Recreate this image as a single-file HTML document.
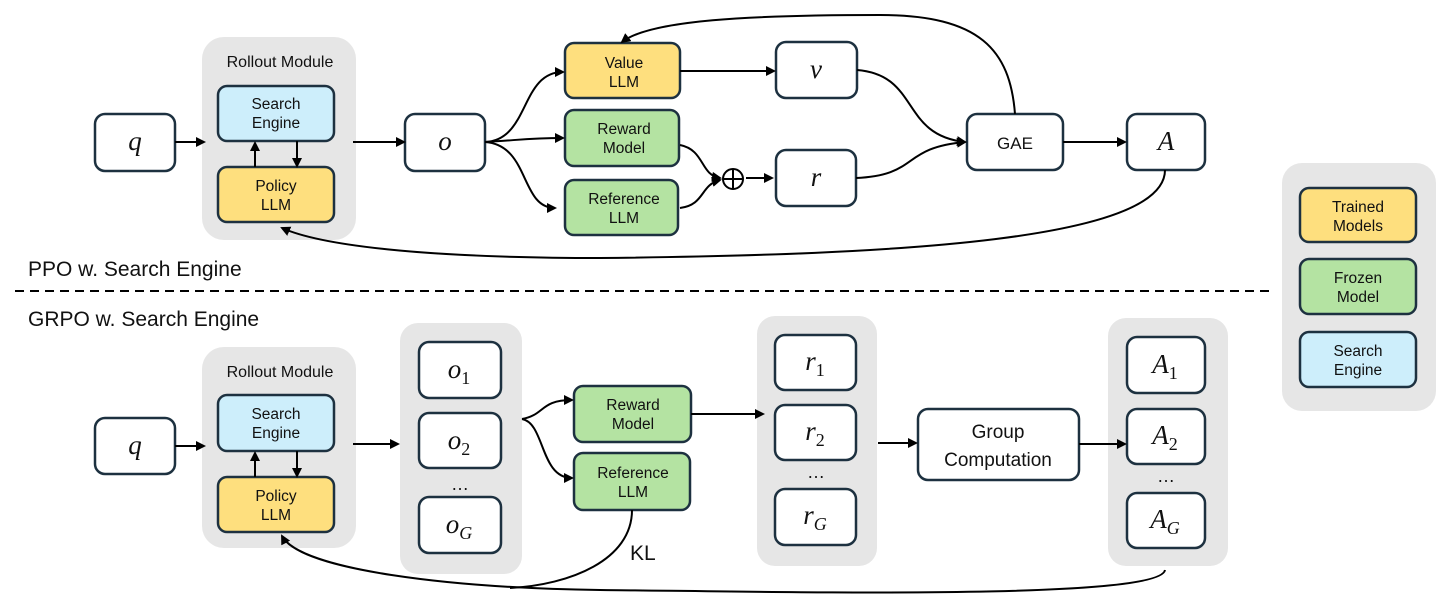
<!DOCTYPE html>
<html><head><meta charset="utf-8"><style>
body{margin:0;background:#fff}
svg{display:block}
text{font-family:"Liberation Sans",sans-serif;fill:#111}
.m text,.m tspan{font-family:"Liberation Serif",serif;font-style:italic;font-size:27px}
.m tspan{font-size:18px}
.m tspan.n{font-style:normal}
.s text{font-size:15.5px}
</style></head><body>
<svg width="1446" height="610" viewBox="0 0 1446 610" xmlns="http://www.w3.org/2000/svg">
<defs><marker id="a" markerWidth="10" markerHeight="10" refX="8" refY="5" orient="auto" markerUnits="userSpaceOnUse"><path d="M0,0 L10,5 L0,10 z" fill="#000"/></marker></defs>
<g fill="#e6e6e6">
<rect x="202" y="37" width="154" height="203" rx="22"/>
<rect x="202" y="347" width="154" height="201" rx="22"/>
<rect x="400" y="323" width="122" height="251" rx="18"/>
<rect x="757" y="316" width="120" height="250" rx="18"/>
<rect x="1108" y="318" width="120" height="248" rx="18"/>
<rect x="1282" y="163" width="154" height="248" rx="20"/>
</g>
<g stroke="#1d3140" stroke-width="2.5">
<rect x="95" y="114" width="80" height="57" rx="10" fill="#fff"/>
<rect x="218" y="86" width="116" height="55" rx="9" fill="#cdeefb"/>
<rect x="218" y="167" width="116" height="55" rx="9" fill="#fedf7e"/>
<rect x="405" y="114" width="80" height="57" rx="10" fill="#fff"/>
<rect x="565" y="43" width="115" height="55" rx="9" fill="#fedf7e"/>
<rect x="565" y="110" width="114" height="56" rx="9" fill="#b4e3a2"/>
<rect x="565" y="180" width="113" height="55" rx="9" fill="#b4e3a2"/>
<rect x="776" y="42" width="81" height="56" rx="10" fill="#fff"/>
<rect x="776" y="150" width="80" height="56" rx="10" fill="#fff"/>
<rect x="967" y="114" width="96" height="56" rx="10" fill="#fff"/>
<rect x="1127" y="114" width="78" height="56" rx="10" fill="#fff"/>
<rect x="1300" y="188" width="116" height="54" rx="9" fill="#fedf7e"/>
<rect x="1300" y="259" width="116" height="55" rx="9" fill="#b4e3a2"/>
<rect x="1300" y="332" width="116" height="55" rx="9" fill="#cdeefb"/>
<rect x="95" y="418" width="80" height="56" rx="10" fill="#fff"/>
<rect x="218" y="395" width="116" height="56" rx="9" fill="#cdeefb"/>
<rect x="218" y="477" width="116" height="55" rx="9" fill="#fedf7e"/>
<rect x="419" y="342" width="82" height="56" rx="10" fill="#fff"/>
<rect x="419" y="413" width="82" height="55" rx="10" fill="#fff"/>
<rect x="419" y="497" width="82" height="56" rx="10" fill="#fff"/>
<rect x="574" y="386" width="117" height="56" rx="9" fill="#b4e3a2"/>
<rect x="574" y="453" width="116" height="57" rx="9" fill="#b4e3a2"/>
<rect x="775" y="335" width="81" height="55" rx="10" fill="#fff"/>
<rect x="775" y="405" width="81" height="55" rx="10" fill="#fff"/>
<rect x="775" y="489" width="81" height="56" rx="10" fill="#fff"/>
<rect x="918" y="409" width="161" height="71" rx="10" fill="#fff"/>
<rect x="1127" y="337" width="78" height="56" rx="10" fill="#fff"/>
<rect x="1127" y="409" width="78" height="55" rx="10" fill="#fff"/>
<rect x="1127" y="493" width="78" height="55" rx="10" fill="#fff"/>
</g>
<g stroke="#000" stroke-width="2" fill="none" marker-end="url(#a)">
<path d="M175,142 H204"/><path d="M353,142 H404"/>
<path d="M255,167 V143"/><path d="M297,141 V166"/>
<path d="M485,142 C530,140 520,72 563,72"/>
<path d="M485,142 C520,140 530,138 563,138"/>
<path d="M485,142 C530,145 520,208 555,208"/>
<path d="M680,71 H774"/>
<path d="M680,145 C705,150 700,175 720,178"/>
<path d="M680,208 C705,205 700,185 720,180"/>
<path d="M746,178 H772"/>
<path d="M857,70 C920,75 900,135 965,142"/>
<path d="M856,178 C920,175 900,148 965,142"/>
<path d="M1063,142 H1125"/>
<path d="M1015,114 C1010,50 980,15 880,15 C750,15 650,20 622,42"/>
<path d="M1165,170 C1165,240 900,255 600,258 C420,258 320,245 282,228"/>
<path d="M175,446 H204"/><path d="M353,444 H398"/>
<path d="M255,477 V453"/><path d="M297,451 V476"/>
<path d="M522,419 C545,415 540,400 572,400"/>
<path d="M522,419 C545,423 540,478 572,478"/>
<path d="M691,414 H763"/>
<path d="M878,443 H916"/>
<path d="M1079,444 H1125"/>
<path d="M1165,570 C1160,600 800,592 600,590 C450,588 300,570 282,536"/>
</g>
<path d="M632,510 C632,560 570,585 510,588" stroke="#000" stroke-width="2" fill="none"/>
<circle cx="733" cy="179" r="10" fill="none" stroke="#000" stroke-width="2"/>
<path d="M723,179 H743 M733,169 V189" stroke="#000" stroke-width="2"/>
<line x1="15" y1="291" x2="1272" y2="291" stroke="#000" stroke-width="2" stroke-dasharray="9,6"/>
<g text-anchor="middle" class="s">
<text x="280" y="67" style="font-size:16px">Rollout Module</text>
<text x="276" y="109">Search</text><text x="276" y="128">Engine</text>
<text x="276" y="191">Policy</text><text x="276" y="210">LLM</text>
<text x="624" y="68">Value</text><text x="624" y="87">LLM</text>
<text x="624" y="134">Reward</text><text x="624" y="153">Model</text>
<text x="624" y="204">Reference</text><text x="624" y="223">LLM</text>
<text x="1015" y="149" style="font-size:17px">GAE</text>
<text x="1358" y="212">Trained</text><text x="1358" y="231">Models</text>
<text x="1358" y="283">Frozen</text><text x="1358" y="302">Model</text>
<text x="1358" y="356">Search</text><text x="1358" y="375">Engine</text>
<text x="280" y="377" style="font-size:16px">Rollout Module</text>
<text x="276" y="419">Search</text><text x="276" y="438">Engine</text>
<text x="276" y="501">Policy</text><text x="276" y="520">LLM</text>
<text x="633" y="410">Reward</text><text x="633" y="429">Model</text>
<text x="633" y="478">Reference</text><text x="633" y="497">LLM</text>
<text x="998" y="438" style="font-size:19px">Group</text><text x="998" y="466" style="font-size:19px">Computation</text>
<text x="460" y="490" style="font-size:18px">…</text>
<text x="816" y="478" style="font-size:18px">…</text>
<text x="1166" y="482" style="font-size:18px">…</text>
</g>
<g text-anchor="middle" class="m">
<text x="135" y="150">q</text><text x="445" y="150">o</text>
<text x="816" y="78">v</text><text x="816" y="186">r</text>
<text x="1166" y="150">A</text>
<text x="135" y="454">q</text>
<text x="459" y="378">o<tspan class="n" dy="6">1</tspan></text>
<text x="459" y="449">o<tspan class="n" dy="6">2</tspan></text>
<text x="459" y="533">o<tspan dy="6">G</tspan></text>
<text x="815" y="370">r<tspan class="n" dy="6">1</tspan></text>
<text x="815" y="440">r<tspan class="n" dy="6">2</tspan></text>
<text x="815" y="524">r<tspan dy="6">G</tspan></text>
<text x="1165" y="373">A<tspan class="n" dy="6">1</tspan></text>
<text x="1165" y="444">A<tspan class="n" dy="6">2</tspan></text>
<text x="1165" y="528">A<tspan dy="6">G</tspan></text>
</g>
<text x="28" y="276" font-size="21">PPO w. Search Engine</text>
<text x="28" y="326" font-size="21">GRPO w. Search Engine</text>
<text x="630" y="560" font-size="21">KL</text>
</svg>
</body></html>
